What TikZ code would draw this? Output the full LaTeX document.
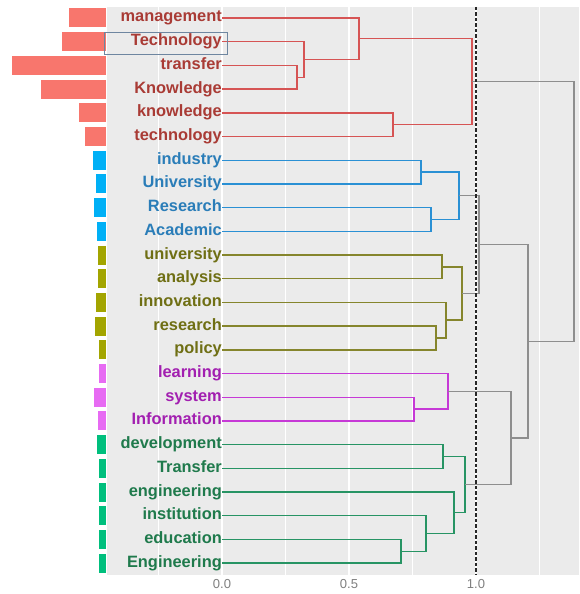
\documentclass[tikz,border=0pt]{standalone}
\usepackage{fontspec}
\setmainfont{Liberation Sans}

\definecolor{panelgray}{HTML}{EBEBEB}
\definecolor{axisgray}{HTML}{7F7F7F}
\definecolor{linkgray}{HTML}{8E8E8E}
\definecolor{boxgray}{HTML}{6E86A0}
\definecolor{redbar}{HTML}{F8766D}
\definecolor{redline}{HTML}{D65454}
\definecolor{redtext}{HTML}{A93B35}
\definecolor{bluebar}{HTML}{00B0F6}
\definecolor{blueline}{HTML}{2A90D4}
\definecolor{bluetext}{HTML}{2A7DB8}
\definecolor{olivebar}{HTML}{A3A500}
\definecolor{oliveline}{HTML}{85852C}
\definecolor{olivetext}{HTML}{6F6F14}
\definecolor{pinkbar}{HTML}{E76BF3}
\definecolor{pinkline}{HTML}{C639D6}
\definecolor{pinktext}{HTML}{A21FB0}
\definecolor{greenbar}{HTML}{00BF7D}
\definecolor{greenline}{HTML}{279464}
\definecolor{greentext}{HTML}{1F7A4C}

\begin{document}
\begin{tikzpicture}
[
    x=1pt, y=-1pt,
    leaf/.style={anchor=east, inner sep=0pt, font=\bfseries\fontsize{16.4}{16}\selectfont, text height=8pt, text depth=0pt},
    link/.style={line width=1.4pt},
    major/.style={draw=white, line width=1.4pt},
    minor/.style={draw=white, line width=0.7pt},
    tick label/.style={font=\fontsize{13}{13}\selectfont, text=axisgray}
]
    \useasboundingbox (0,0) rectangle (579,594);

    % panel and grid
    \fill[panelgray] (107,7) rectangle (579,575);
    \draw[minor] (158.5,7) -- (158.5,575);
    \draw[minor] (285.5,7) -- (285.5,575);
    \draw[minor] (412.5,7) -- (412.5,575);
    \draw[minor] (539.5,7) -- (539.5,575);
    \draw[major] (222,7) -- (222,575);
    \draw[major] (349,7) -- (349,575);
    \draw[major] (476,7) -- (476,575);

    \begin{scope}[link/.append style={draw=redline}, leaf/.append style={text=redtext}]
        \fill[redbar] (69,8.5) rectangle (106,27.5);
        \fill[redbar] (62,32.2) rectangle (106,51.2);
        \fill[redbar] (12,55.9) rectangle (106,74.9);
        \fill[redbar] (41,79.6) rectangle (106,98.6);
        \fill[redbar] (79,103.3) rectangle (106,122.3);
        \fill[redbar] (85,127) rectangle (106,146);
        \node[leaf] (management) at (222,18) {management};
        \node[leaf] (Technology) at (222,41.7) {Technology};
        \node[leaf] (transfer) at (222,65.4) {transfer};
        \node[leaf] (Knowledge) at (222,89.1) {Knowledge};
        \node[leaf] (knowledge) at (222,112.8) {knowledge};
        \node[leaf] (technology) at (222,136.5) {technology};
        \coordinate (r1) at (297,77.25);
        \coordinate (r2) at (304,59.48);
        \coordinate (r3) at (359,38.74);
        \coordinate (r4) at (393,124.65);
        \coordinate (r5) at (472,81.69);
        \draw[link] (transfer.east) -| (r1) |- (Knowledge.east);
        \draw[link] (Technology.east) -| (r2) |- (r1);
        \draw[link] (management.east) -| (r3) |- (r2);
        \draw[link] (knowledge.east) -| (r4) |- (technology.east);
        \draw[link] (r3) -| (r5) |- (r4);
    \end{scope}

    \begin{scope}[link/.append style={draw=blueline}, leaf/.append style={text=bluetext}]
        \fill[bluebar] (93.3,150.7) rectangle (106,169.7);
        \fill[bluebar] (95.7,174.4) rectangle (106,193.4);
        \fill[bluebar] (94.3,198.1) rectangle (106,217.1);
        \fill[bluebar] (96.7,221.8) rectangle (106,240.8);
        \node[leaf] (industry) at (222,160.2) {industry};
        \node[leaf] (University) at (222,183.9) {University};
        \node[leaf] (Research) at (222,207.6) {Research};
        \node[leaf] (Academic) at (222,231.3) {Academic};
        \coordinate (b1) at (421,172.05);
        \coordinate (b2) at (431,219.45);
        \coordinate (b3) at (459,195.75);
        \draw[link] (industry.east) -| (b1) |- (University.east);
        \draw[link] (Research.east) -| (b2) |- (Academic.east);
        \draw[link] (b1) -| (b3) |- (b2);
    \end{scope}

    \begin{scope}[link/.append style={draw=oliveline}, leaf/.append style={text=olivetext}]
        \fill[olivebar] (97.7,245.5) rectangle (106,264.5);
        \fill[olivebar] (97.7,269.2) rectangle (106,288.2);
        \fill[olivebar] (95.7,292.9) rectangle (106,311.9);
        \fill[olivebar] (94.7,316.6) rectangle (106,335.6);
        \fill[olivebar] (99.3,340.3) rectangle (106,359.3);
        \node[leaf] (university) at (222,255) {university};
        \node[leaf] (analysis) at (222,278.7) {analysis};
        \node[leaf] (innovation) at (222,302.4) {innovation};
        \node[leaf] (research) at (222,326.1) {research};
        \node[leaf] (policy) at (222,349.8) {policy};
        \coordinate (o1) at (442,266.85);
        \coordinate (o2) at (436,337.95);
        \coordinate (o3) at (446,320.18);
        \coordinate (o4) at (462,293.51);
        \draw[link] (university.east) -| (o1) |- (analysis.east);
        \draw[link] (research.east) -| (o2) |- (policy.east);
        \draw[link] (innovation.east) -| (o3) |- (o2);
        \draw[link] (o1) -| (o4) |- (o3);
    \end{scope}

    \begin{scope}[link/.append style={draw=pinkline}, leaf/.append style={text=pinktext}]
        \fill[pinkbar] (99.3,364) rectangle (106,383);
        \fill[pinkbar] (94.3,387.7) rectangle (106,406.7);
        \fill[pinkbar] (97.7,411.4) rectangle (106,430.4);
        \node[leaf] (learning) at (222,373.5) {learning};
        \node[leaf] (system) at (222,397.2) {system};
        \node[leaf] (Information) at (222,420.9) {Information};
        \coordinate (p1) at (414,409.05);
        \coordinate (p2) at (448,391.28);
        \draw[link] (system.east) -| (p1) |- (Information.east);
        \draw[link] (learning.east) -| (p2) |- (p1);
    \end{scope}

    \begin{scope}[link/.append style={draw=greenline}, leaf/.append style={text=greentext}]
        \fill[greenbar] (96.7,435.1) rectangle (106,454.1);
        \fill[greenbar] (99,458.8) rectangle (106,477.8);
        \fill[greenbar] (99,482.5) rectangle (106,501.5);
        \fill[greenbar] (99,506.2) rectangle (106,525.2);
        \fill[greenbar] (99,529.9) rectangle (106,548.9);
        \fill[greenbar] (99,553.6) rectangle (106,572.6);
        \node[leaf] (development) at (222,444.6) {development};
        \node[leaf] (Transfer) at (222,468.3) {Transfer};
        \node[leaf] (engineering) at (222,492) {engineering};
        \node[leaf] (institution) at (222,515.7) {institution};
        \node[leaf] (education) at (222,539.4) {education};
        \node[leaf] (Engineering) at (222,563.1) {Engineering};
        \coordinate (e1) at (443,456.45);
        \coordinate (e2) at (401,551.25);
        \coordinate (e3) at (426,533.48);
        \coordinate (e4) at (454,512.74);
        \coordinate (e5) at (465,484.6);
        \draw[link] (development.east) -| (e1) |- (Transfer.east);
        \draw[link] (education.east) -| (e2) |- (Engineering.east);
        \draw[link] (institution.east) -| (e3) |- (e2);
        \draw[link] (engineering.east) -| (e4) |- (e3);
        \draw[link] (e1) -| (e5) |- (e4);
    \end{scope}

    % upper merges
    \begin{scope}[link/.append style={draw=linkgray}]
        \coordinate (g1) at (479,244.63);
        \coordinate (g2) at (511,437.94);
        \coordinate (g3) at (528,341.29);
        \coordinate (g4) at (574,211.49);
        \draw[link] (b3) -| (g1) |- (o4);
        \draw[link] (p2) -| (g2) |- (e5);
        \draw[link] (g1) -| (g3) |- (g2);
        \draw[link] (r5) -| (g4) |- (g3);
    \end{scope}

    \draw[boxgray, line width=0.8pt] (104,32) rectangle (227,54);
    \draw[black!85, line width=1.8pt, dash pattern=on 3.5pt off 2pt] (476,7) -- (476,575);

    \node[tick label] (t0) at (222,584) {0.0};
    \node[tick label] (t1) at (349,584) {0.5};
    \node[tick label] (t2) at (476,584) {1.0};
\end{tikzpicture}
\end{document}
